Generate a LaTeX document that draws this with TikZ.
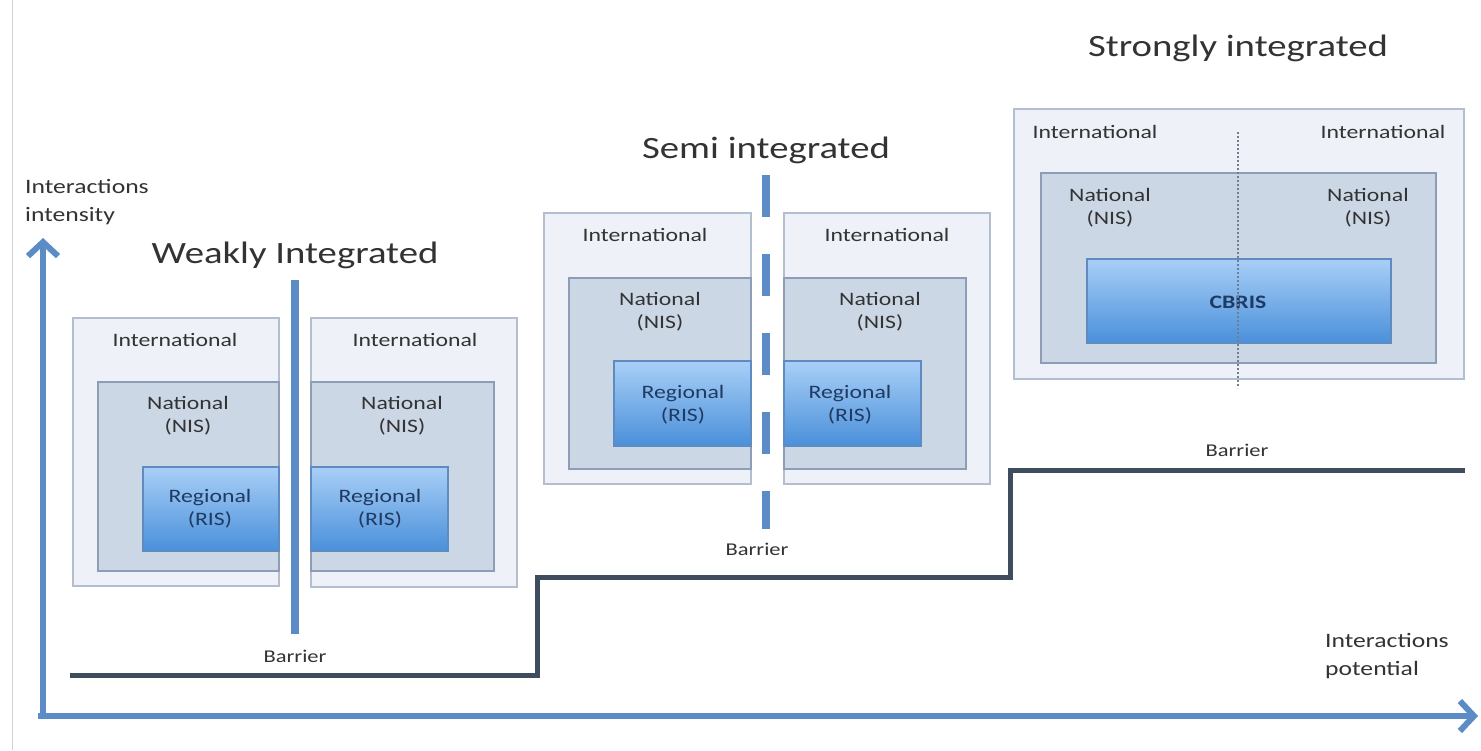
\documentclass[tikz,border=0pt]{standalone}
\usepackage{fontspec}
\setmainfont{Carlito}
\newfontfamily\widefont[FakeStretch=1.25]{Carlito}
\usetikzlibrary{arrows.meta}
\definecolor{axisblue}{HTML}{5B8CC6}
\definecolor{stepdark}{HTML}{3E4C5E}
\definecolor{intfill}{HTML}{EEF2F8}
\definecolor{intdraw}{HTML}{B3BFCF}
\definecolor{natfill}{HTML}{CCD7E5}
\definecolor{natdraw}{HTML}{8C9DB5}
\definecolor{regtop}{HTML}{A9CFF7}
\definecolor{regbot}{HTML}{4A90DA}
\definecolor{regdraw}{HTML}{5E8CC0}
\definecolor{txt}{HTML}{333333}
\definecolor{regtxt}{HTML}{1F3B63}
\definecolor{frame}{HTML}{D3D3D3}
\begin{document}
\begin{tikzpicture}[x=1pt,y=-1pt,
  boxbase/.style={anchor=north west, inner sep=0pt, line width=1.5pt},
  intbox/.style={boxbase, draw=intdraw, fill=intfill},
  natbox/.style={boxbase, draw=natdraw, fill=natfill},
  regbox/.style={boxbase, draw=regdraw, top color=regtop, bottom color=regbot},
  lbl/.style={font=\widefont\fontsize{19}{23}\selectfont, text=txt, align=center, inner sep=0pt},
  reglbl/.style={font=\widefont\fontsize{19}{23}\selectfont, text=regtxt, align=center, inner sep=0pt},
  ttl/.style={font=\widefont\fontsize{31}{34}\selectfont, text=txt, inner sep=0pt},
  barlbl/.style={font=\widefont\fontsize{18}{20}\selectfont, text=txt, inner sep=0pt},
  axlbl/.style={font=\widefont\fontsize{20.5}{28}\selectfont, text=txt, align=left, anchor=west, inner sep=0pt},
  axisline/.style={draw=axisblue, line width=6pt, -{Straight Barb[length=14pt,width=30pt,line width=6pt]}},
  steppath/.style={draw=stepdark, line width=5pt},
  barrierbar/.style={draw=axisblue, line width=8pt}
]
\useasboundingbox (0,0) rectangle (1481,750);
\fill[white] (0,0) rectangle (1481,750);
\draw[frame, line width=1pt] (12,0) -- (12,750);

% ---------- Weakly integrated ----------
\node[intbox, minimum width=206pt, minimum height=268pt] (i1) at (72,317) {};
\node[natbox, minimum width=181pt, minimum height=189pt] (n1) at (97,381) {};
\node[regbox, minimum width=136pt, minimum height=84pt] (r1) at (142,466) {};
\node[intbox, minimum width=206pt, minimum height=269pt] (i2) at (310,317) {};
\node[natbox, minimum width=183pt, minimum height=189pt] (n2) at (310,381) {};
\node[regbox, minimum width=137pt, minimum height=84pt] (r2) at (310,466) {};
\node[lbl] (ti1) at (175,340) {International};
\node[lbl] (ti2) at (415,340) {International};
\node[lbl] (tn1) at (188,416) {National\\(NIS)};
\node[lbl] (tn2) at (402,416) {National\\(NIS)};
\node[reglbl] (tr1) at (210,509) {Regional\\(RIS)};
\node[reglbl] (tr2) at (380,509) {Regional\\(RIS)};
\coordinate (b1t) at (295,280);
\coordinate (b1b) at (295,634);
\draw[barrierbar] (b1t) -- (b1b);
\node[ttl] (tw) at (295,255) {Weakly Integrated};
\node[barlbl] (bl1) at (295,656) {Barrier};

% ---------- Semi integrated ----------
\node[intbox, minimum width=207pt, minimum height=271pt] (i3) at (543,212) {};
\node[natbox, minimum width=182pt, minimum height=191pt] (n3) at (568,277) {};
\node[regbox, minimum width=137pt, minimum height=85pt] (r3) at (613,360) {};
\node[intbox, minimum width=206pt, minimum height=271pt] (i4) at (783,212) {};
\node[natbox, minimum width=182pt, minimum height=191pt] (n4) at (783,277) {};
\node[regbox, minimum width=137pt, minimum height=85pt] (r4) at (783,360) {};
\node[lbl] (ti3) at (645,235) {International};
\node[lbl] (ti4) at (887,235) {International};
\node[lbl] (tn3) at (660,312) {National\\(NIS)};
\node[lbl] (tn4) at (880,312) {National\\(NIS)};
\node[reglbl] (tr3) at (683,405) {Regional\\(RIS)};
\node[reglbl] (tr4) at (850,405) {Regional\\(RIS)};
\coordinate (b2t) at (766,175);
\coordinate (b2b) at (766,529);
\draw[barrierbar, dash pattern=on 42pt off 37pt] (b2t) -- (b2b);
\node[ttl] (ts) at (766,150) {Semi integrated};
\node[barlbl] (bl2) at (757,549) {Barrier};

% ---------- Strongly integrated ----------
\node[intbox, minimum width=450pt, minimum height=270pt] (i5) at (1013,108) {};
\node[natbox, minimum width=395pt, minimum height=190pt] (n5) at (1040,172) {};
\node[regbox, minimum width=304pt, minimum height=84pt] (c5) at (1086,258) {};
\node[lbl] (ti5) at (1095,132) {International};
\node[lbl] (ti6) at (1383,132) {International};
\node[lbl] (tn5) at (1110,208) {National\\(NIS)};
\node[lbl] (tn6) at (1368,208) {National\\(NIS)};
\node[reglbl, font=\widefont\fontsize{19}{20}\selectfont\bfseries] (tc) at (1238,302) {CBRIS};
\coordinate (b3t) at (1238,132);
\coordinate (b3b) at (1238,388);
\draw[draw=natdraw!80!black, line width=1.2pt, dash pattern=on 2pt off 2pt] (b3t) -- (b3b);
\node[ttl] (tst) at (1238,48) {Strongly integrated};
\node[barlbl] (bl3) at (1237,450) {Barrier};

% ---------- Step line ----------
\coordinate (s0) at (70,675);
\coordinate (s1) at (537,675);
\coordinate (s2) at (537,577);
\coordinate (s3) at (1010,577);
\coordinate (s4) at (1010,470);
\coordinate (s5) at (1465,470);
\draw[steppath] (s0) -- (s1) -- (s2) -- (s3) -- (s4) -- (s5);

% ---------- Axes ----------
\coordinate (yb) at (43,719);
\coordinate (ytip) at (43,238);
\coordinate (xb) at (38,716);
\coordinate (xtip) at (1478,716);
\draw[axisline] (yb) -- (ytip);
\draw[axisline] (xb) -- (xtip);
\node[axlbl] (ay) at (25,202) {Interactions\\intensity};
\node[axlbl] (ax) at (1325,656) {Interactions\\potential};
\end{tikzpicture}
\end{document}
